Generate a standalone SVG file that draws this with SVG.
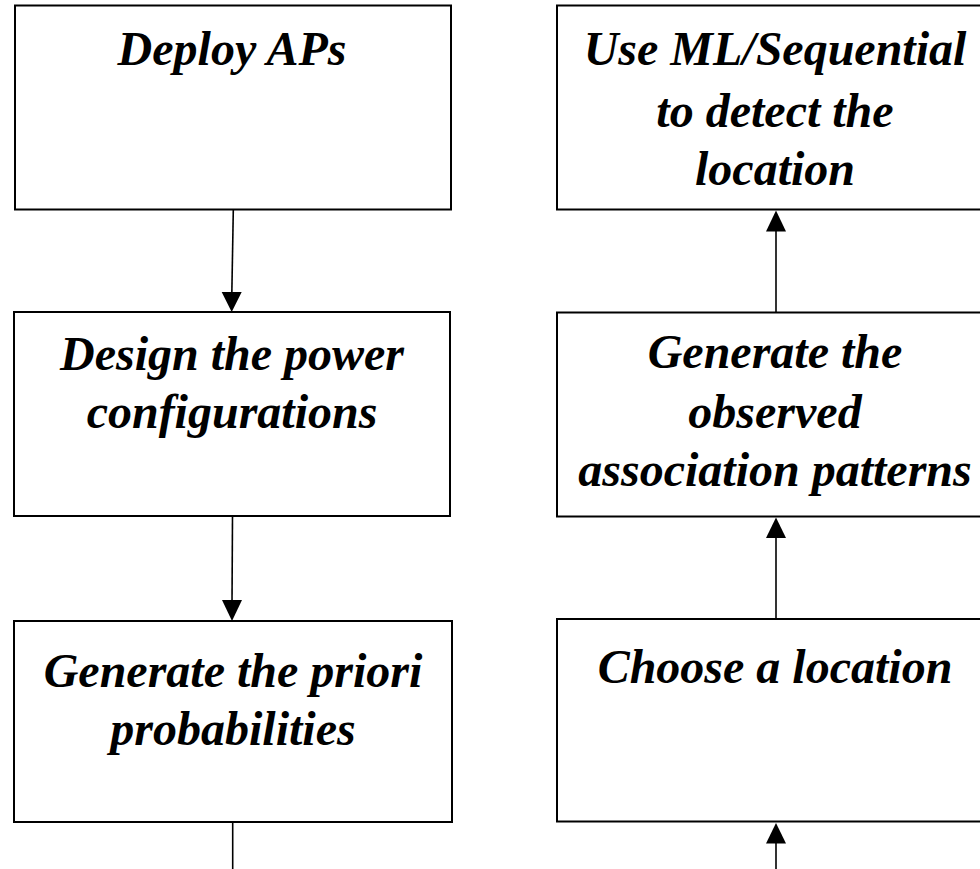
<svg xmlns="http://www.w3.org/2000/svg" width="980" height="869" viewBox="0 0 980 869">
  <style>
    .box { fill: #ffffff; stroke: #000000; stroke-width: 2; }
    .lbl { font-family: "Liberation Serif", "Times New Roman", serif; font-weight: bold; font-style: italic; font-size: 48px; fill: #000000; text-anchor: middle; }
    .wire { stroke: #000000; stroke-width: 1.6; fill: none; }
    .head { fill: #000000; stroke: none; }
  </style>
  <rect width="980" height="869" fill="#ffffff"/>

  <!-- left column -->
  <g id="deploy-aps">
    <rect class="box" x="15" y="5.5" width="436" height="204"/>
    <text class="lbl" x="232" y="65">Deploy APs</text>
  </g>
  <g id="design-power">
    <rect class="box" x="14" y="312" width="436" height="204"/>
    <text class="lbl" x="232" y="370">Design the power</text>
    <text class="lbl" x="232" y="428">configurations</text>
  </g>
  <g id="priori-prob">
    <rect class="box" x="14" y="621" width="438" height="201"/>
    <text class="lbl" x="233" y="687">Generate the priori</text>
    <text class="lbl" x="233" y="745">probabilities</text>
  </g>

  <!-- right column -->
  <g id="detect-location">
    <rect class="box" x="557" y="5.5" width="440" height="204"/>
    <text class="lbl" x="775" y="65">Use ML/Sequential</text>
    <text class="lbl" x="775" y="127">to detect the</text>
    <text class="lbl" x="775" y="185">location</text>
  </g>
  <g id="observed-patterns">
    <rect class="box" x="557" y="312.5" width="440" height="204"/>
    <text class="lbl" x="775" y="368">Generate the</text>
    <text class="lbl" x="775" y="428">observed</text>
    <text class="lbl" x="775" y="486">association patterns</text>
  </g>
  <g id="choose-location">
    <rect class="box" x="557" y="619" width="440" height="202.5"/>
    <text class="lbl" x="775" y="683">Choose a location</text>
  </g>

  <!-- connectors -->
  <g id="connectors">
    <line class="wire" x1="233.3" y1="210" x2="231.8" y2="295"/>
    <polygon class="head" points="221.7,292 241.7,292 231.7,312"/>
    <line class="wire" x1="232.5" y1="516" x2="232" y2="603"/>
    <polygon class="head" points="222,600 242,600 232,621"/>
    <line class="wire" x1="232.7" y1="822" x2="232.7" y2="869"/>

    <line class="wire" x1="776" y1="312.5" x2="776" y2="228"/>
    <polygon class="head" points="766,231.5 786,231.5 776,210.5"/>
    <line class="wire" x1="776" y1="619" x2="776" y2="535"/>
    <polygon class="head" points="766,538 786,538 776,517.5"/>
    <line class="wire" x1="776" y1="869" x2="776" y2="840"/>
    <polygon class="head" points="766,843.5 786,843.5 776,823"/>
  </g>
</svg>
